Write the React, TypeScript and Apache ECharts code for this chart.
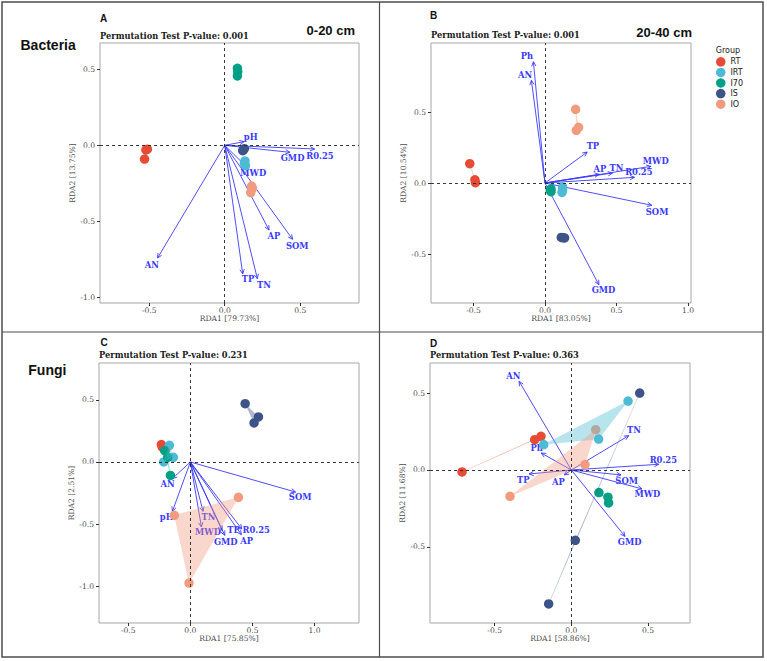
import React, { useEffect, useRef } from 'react';
import * as echarts from 'echarts';

type Pt = [number, number];

const groups = ['RT', 'IRT', 'I70', 'IS', 'IO'];
const groupColors = ['#E64B35', '#4DBBD5', '#00A087', '#3C5488', '#F39B7F'];

// Site scores (RDA1, RDA2) per group, in the order of `groups`
const sitesBac020: Pt[][] = [
  [[-0.522, -0.03], [-0.512, -0.025], [-0.531, -0.09]],
  [[0.134, -0.103], [0.137, -0.134], [0.13, -0.118]],
  [[0.084, 0.507], [0.086, 0.485], [0.084, 0.456]],
  [[0.119, -0.035], [0.13, -0.022], [0.124, -0.03]],
  [[0.178, -0.268], [0.172, -0.311], [0.183, -0.283]],
];
const sitesBac2040: Pt[][] = [
  [[-0.526, 0.136], [-0.49, 0.023], [-0.486, 0.002]],
  [[0.123, -0.028], [0.119, -0.066], [0.123, -0.05]],
  [[0.042, -0.042], [0.042, -0.061], [0.037, -0.05]],
  [[0.114, -0.383], [0.137, -0.387], [0.126, -0.385]],
  [[0.214, 0.519], [0.235, 0.392], [0.219, 0.371]],
];
const sitesFun020: Pt[][] = [
  [[-0.234, 0.14], [-0.226, 0.12], [-0.2, 0.1]],
  [[-0.169, 0.134], [-0.137, 0.038], [-0.215, 0.0]],
  [[-0.207, 0.091], [-0.183, 0.038], [-0.161, -0.108]],
  [[0.441, 0.47], [0.548, 0.363], [0.513, 0.315]],
  [[0.387, -0.285], [-0.129, -0.43], [-0.011, -0.976]],
];
const sitesFun2040: Pt[][] = [
  [[-0.713, -0.013], [-0.239, 0.197], [-0.198, 0.219]],
  [[-0.18, 0.165], [0.178, 0.201], [0.37, 0.448]],
  [[0.18, -0.147], [0.239, -0.177], [0.243, -0.214]],
  [[0.446, 0.5], [0.026, -0.457], [-0.148, -0.87]],
  [[-0.4, -0.171], [0.159, 0.262], [0.089, 0.035]],
];

// Environmental factor biplot arrows: names, arrow tips, label anchors
const envNamesA = ['pH', 'GMD', 'R0.25', 'MWD', 'AP', 'SOM', 'TP', 'TN', 'AN'];
const envTipsA: Pt[] = [[0.128, 0.024], [0.432, -0.046], [0.595, -0.024], [0.15, -0.147], [0.293, -0.557], [0.449, -0.618], [0.119, -0.846], [0.216, -0.877], [-0.445, -0.741]];
const envLabelsA: Pt[] = [[0.172, 0.057], [0.449, -0.086], [0.63, -0.068], [0.189, -0.184], [0.326, -0.596], [0.48, -0.66], [0.154, -0.882], [0.26, -0.921], [-0.482, -0.787]];

const envNamesB = ['Ph', 'AN', 'TP', 'AP', 'TN', 'MWD', 'R0.25', 'SOM', 'GMD'];
const envTipsB: Pt[] = [[-0.081, 0.854], [-0.095, 0.723], [0.295, 0.218], [0.379, 0.061], [0.472, 0.07], [0.74, 0.117], [0.626, 0.04], [0.747, -0.157], [0.377, -0.716]];
const envLabelsB: Pt[] = [[-0.126, 0.897], [-0.14, 0.761], [0.335, 0.258], [0.384, 0.101], [0.5, 0.106], [0.774, 0.155], [0.656, 0.077], [0.784, -0.202], [0.409, -0.756]];

const envNamesC = ['AN', 'pH', 'TN', 'MWD', 'GMD', 'TP', 'R0.25', 'AP', 'SOM'];
const envTipsC: Pt[] = [[-0.145, -0.134], [-0.145, -0.398], [0.102, -0.398], [0.089, -0.524], [0.277, -0.591], [0.255, -0.551], [0.414, -0.54], [0.411, -0.586], [0.847, -0.242]];
const envLabelsC: Pt[] = [[-0.183, -0.177], [-0.191, -0.446], [0.145, -0.444], [0.142, -0.567], [0.285, -0.645], [0.347, -0.551], [0.53, -0.551], [0.454, -0.64], [0.884, -0.285]];

const envNamesD = ['AN', 'Ph', 'TP', 'AP', 'TN', 'R0.25', 'SOM', 'MWD', 'GMD'];
const envTipsD: Pt[] = [[-0.341, 0.576], [-0.196, 0.11], [-0.276, -0.026], [-0.046, -0.032], [0.374, 0.223], [0.57, 0.037], [0.324, -0.032], [0.461, -0.123], [0.35, -0.431]];
const envLabelsD: Pt[] = [[-0.378, 0.608], [-0.226, 0.143], [-0.313, -0.063], [-0.085, -0.08], [0.409, 0.262], [0.6, 0.067], [0.361, -0.071], [0.496, -0.158], [0.38, -0.465]];

const axisTitlesX = ['RDA1 [79.73%]', 'RDA1 [83.05%]', 'RDA1 [75.85%]', 'RDA1 [58.86%]'];
const axisTitlesY = ['RDA2 [13.75%]', 'RDA2 [10.54%]', 'RDA2 [2.51%]', 'RDA2 [11.68%]'];
const pValues = ['0.001', '0.001', '0.231', '0.363'];
const panelTags = ['A', 'B', 'C', 'D'];

const xTicksA = [-0.5, 0, 0.5];
const yTicksA = [-1, -0.5, 0, 0.5];
const xTicksB = [-0.5, 0, 0.5, 1];
const yTicksB = [-0.5, 0, 0.5];
const xTicksC = [-0.5, 0, 0.5, 1];
const yTicksC = [-1, -0.5, 0, 0.5];
const xTicksD = [-0.5, 0, 0.5];
const yTicksD = [-0.5, 0, 0.5];

const ARROW = '#3a3aff';
const SERIF = '"DejaVu Serif", serif';
const SANS = '"Liberation Sans", Arial, sans-serif';

const panels = [
  { sites: sitesBac020, names: envNamesA, tips: envTipsA, labels: envLabelsA, xr: [-0.826, 0.889], yr: [-1.037, 0.673], xt: xTicksA, yt: yTicksA, grid: { left: 100, top: 43, width: 259, height: 260 } },
  { sites: sitesBac2040, names: envNamesB, tips: envTipsB, labels: envLabelsB, xr: [-0.797, 1.021], yr: [-0.845, 0.986], xt: xTicksB, yt: yTicksB, grid: { left: 431, top: 43, width: 260, height: 260 } },
  { sites: sitesFun020, names: envNamesC, tips: envTipsC, labels: envLabelsC, xr: [-0.736, 1.358], yr: [-1.298, 0.798], xt: xTicksC, yt: yTicksC, grid: { left: 99, top: 363, width: 260, height: 260 } },
  { sites: sitesFun2040, names: envNamesD, tips: envTipsD, labels: envLabelsD, xr: [-0.922, 0.774], yr: [-0.994, 0.695], xt: xTicksD, yt: yTicksD, grid: { left: 430, top: 363, width: 260, height: 260 } },
];

function rgba(hex: string, a: number) {
  const n = parseInt(hex.slice(1), 16);
  return `rgba(${(n >> 16) & 255},${(n >> 8) & 255},${n & 255},${a})`;
}

function convexHull(points: number[][]): number[][] {
  const p = points.slice().sort((a, b) => a[0] - b[0] || a[1] - b[1]);
  if (p.length < 3) return p;
  const cross = (o: number[], a: number[], b: number[]) => (a[0] - o[0]) * (b[1] - o[1]) - (a[1] - o[1]) * (b[0] - o[0]);
  const lower: number[][] = [];
  for (const q of p) {
    while (lower.length >= 2 && cross(lower[lower.length - 2], lower[lower.length - 1], q) <= 0) lower.pop();
    lower.push(q);
  }
  const upper: number[][] = [];
  for (let i = p.length - 1; i >= 0; i--) {
    const q = p[i];
    while (upper.length >= 2 && cross(upper[upper.length - 2], upper[upper.length - 1], q) <= 0) upper.pop();
    upper.push(q);
  }
  upper.pop();
  lower.pop();
  return lower.concat(upper);
}

function buildOption() {
  const series: any[] = [];
  panels.forEach((p, i) => {
    // biplot arrows with labels, plus dashed zero reference lines
    series.push({
      type: 'custom',
      name: 'env' + i,
      xAxisIndex: i,
      yAxisIndex: i,
      z: 2,
      data: p.tips.map((t) => [t[0], t[1]]),
      encode: { x: 0, y: 1 },
      renderItem: (params: any, api: any) => {
        const k = params.dataIndex;
        const o = api.coord([0, 0]);
        const e = api.coord([api.value(0), api.value(1)]);
        const ang = Math.atan2(e[1] - o[1], e[0] - o[0]);
        const L = 5;
        const w = Math.PI / 7;
        const h1 = [e[0] - L * Math.cos(ang - w), e[1] - L * Math.sin(ang - w)];
        const h2 = [e[0] - L * Math.cos(ang + w), e[1] - L * Math.sin(ang + w)];
        const lp = api.coord(p.labels[k]);
        return {
          type: 'group',
          children: [
            { type: 'line', shape: { x1: o[0], y1: o[1], x2: e[0], y2: e[1] }, style: { stroke: ARROW, lineWidth: 0.9 } },
            { type: 'polyline', shape: { points: [h1, e, h2] }, style: { stroke: ARROW, lineWidth: 0.9, fill: 'none' } },
            {
              type: 'text',
              x: lp[0],
              y: lp[1],
              style: { text: p.names[k], fill: ARROW, font: `bold 8.4px ${SERIF}`, align: 'center', verticalAlign: 'middle' },
            },
          ],
        };
      },
      markLine: {
        silent: true,
        symbol: ['none', 'none'],
        label: { show: false },
        lineStyle: { type: [3, 3], color: '#222', width: 0.9 },
        data: [{ xAxis: 0 }, { yAxis: 0 }],
      },
    });
    // site points
    p.sites.forEach((pts, g) => {
      series.push({
        type: 'scatter',
        name: groups[g],
        xAxisIndex: i,
        yAxisIndex: i,
        z: 3,
        symbolSize: 9.5,
        itemStyle: { color: groupColors[g], opacity: 1 },
        data: pts,
      });
    });
    // group hulls
    series.push({
      type: 'custom',
      name: 'hull' + i,
      xAxisIndex: i,
      yAxisIndex: i,
      z: 4,
      data: p.sites.map((pts, g) => [pts[0][0], pts[0][1], g]),
      encode: { x: 0, y: 1 },
      renderItem: (params: any, api: any) => {
        const g = api.value(2);
        const pix = p.sites[g].map((q) => api.coord(q));
        return {
          type: 'polygon',
          shape: { points: convexHull(pix) },
          style: { fill: rgba(groupColors[g], 0.4), stroke: rgba(groupColors[g], 0.12), lineWidth: 0.8 },
        };
      },
    });
  });

  const axisText = { fontFamily: SERIF, fontSize: 7.6, color: '#4d4d4d' };

  const graphicTexts: any[] = [];
  const addText = (text: string, x: number, y: number, font: string, align = 'left', fill = '#111') =>
    graphicTexts.push({ type: 'text', x, y, style: { text, font, fill, align, verticalAlign: 'middle' } });

  const tagPos: Pt[] = [[100, 18.5], [430, 15.5], [100.5, 342.7], [430, 343.3]];
  const pPos: Pt[] = [[100, 35.5], [431, 35], [99, 355.3], [430, 355]];
  panelTags.forEach((t, i) => {
    addText(t, tagPos[i][0], tagPos[i][1], `bold 10px ${SANS}`);
    addText('Permutation Test P-value: ' + pValues[i], pPos[i][0], pPos[i][1], `bold 8.3px ${SERIF}`, 'left', '#1a1a1a');
  });
  addText('Bacteria', 20.5, 44.5, `bold 14px ${SANS}`);
  addText('Fungi', 28.3, 370, `bold 14px ${SANS}`);
  addText('0-20 cm', 355, 30.5, `bold 13px ${SANS}`, 'right');
  addText('20-40 cm', 692, 32.5, `bold 13px ${SANS}`, 'right');
  addText('Group', 715.7, 50, `8px "DejaVu Sans", sans-serif`, 'left', '#222');

  return {
    animation: false,
    backgroundColor: '#ffffff',
    grid: panels.map((p) => ({ ...p.grid, show: true, borderColor: '#a6a6a6', borderWidth: 1, backgroundColor: 'transparent' })),
    xAxis: panels.map((p, i) => ({
      type: 'value',
      gridIndex: i,
      min: p.xr[0],
      max: p.xr[1],
      name: axisTitlesX[i],
      nameLocation: 'middle',
      nameGap: 11,
      nameTextStyle: axisText,
      axisLine: { show: false, onZero: false },
      axisTick: { show: true, length: 3, lineStyle: { color: '#333', width: 1 }, customValues: p.xt },
      axisLabel: { ...axisText, margin: 3, customValues: p.xt, formatter: (v: number) => v.toFixed(1) },
      splitLine: { show: false },
    })),
    yAxis: panels.map((p, i) => ({
      type: 'value',
      gridIndex: i,
      min: p.yr[0],
      max: p.yr[1],
      name: axisTitlesY[i],
      nameLocation: 'middle',
      nameGap: 19,
      nameTextStyle: axisText,
      axisLine: { show: false, onZero: false },
      axisTick: { show: true, length: 3, lineStyle: { color: '#333', width: 1 }, customValues: p.yt },
      axisLabel: { ...axisText, margin: 5, customValues: p.yt, formatter: (v: number) => v.toFixed(1) },
      splitLine: { show: false },
    })),
    legend: {
      data: groups.map((g) => ({ name: g, icon: 'circle' })),
      orient: 'vertical',
      left: 716,
      top: 57,
      padding: 0,
      itemWidth: 9.5,
      itemHeight: 9.5,
      itemGap: 1,
      selectedMode: false,
      textStyle: { fontFamily: '"DejaVu Sans", sans-serif', fontSize: 8, color: '#222', lineHeight: 9.6 },
    },
    graphic: [
      { type: 'rect', shape: { x: 2, y: 2, width: 761, height: 655 }, style: { fill: 'none', stroke: '#4d4d4d', lineWidth: 1.5 }, silent: true },
      { type: 'line', shape: { x1: 379.5, y1: 2, x2: 379.5, y2: 657 }, style: { stroke: '#4d4d4d', lineWidth: 1.2 }, silent: true },
      { type: 'line', shape: { x1: 2, y1: 332, x2: 763, y2: 332 }, style: { stroke: '#4d4d4d', lineWidth: 1.2 }, silent: true },
      ...graphicTexts,
    ],
    series,
  };
}

export default function App() {
  const ref = useRef<HTMLDivElement>(null);
  useEffect(() => {
    if (!ref.current) return;
    const chart = echarts.init(ref.current, undefined, { renderer: 'svg' });
    chart.setOption(buildOption() as any);
    return () => chart.dispose();
  }, []);
  return (
    <div
      ref={ref}
      style={{ position: 'fixed', left: 0, top: 0, width: 767, height: 661, background: '#fff' }}
    />
  );
}
